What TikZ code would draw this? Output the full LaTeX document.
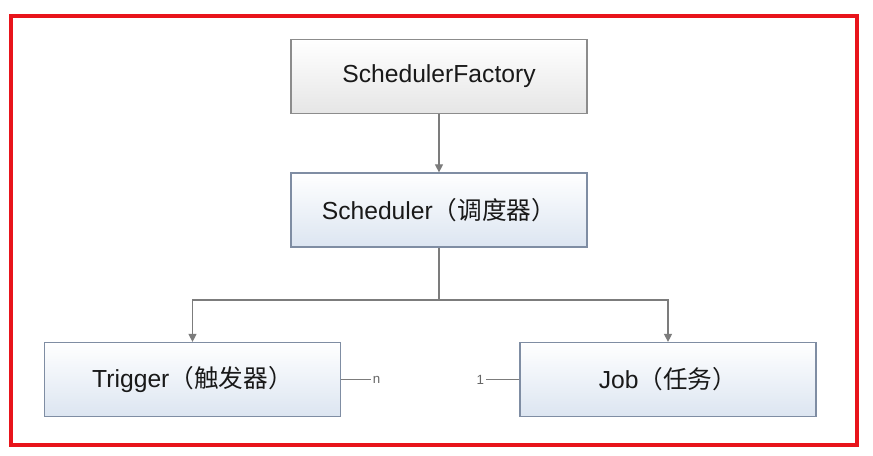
\documentclass[tikz,border=0pt]{standalone}
\usepackage{fontspec}
\setmainfont{Liberation Sans}
\newfontfamily\cjk{Noto Sans CJK SC}
\usetikzlibrary{arrows.meta}

\definecolor{frame}{HTML}{E8141B}
\definecolor{edgegray}{HTML}{7C7C7C}
\definecolor{boxline}{HTML}{7F8DA3}
\definecolor{boxblue}{HTML}{DCE5F1}

\tikzset{
  box/.style={draw=boxline, line width=0.9pt, minimum width=222pt, minimum height=55.5pt,
    top color=white, bottom color=boxblue, text=black!90,
    font=\fontsize{18.5}{22}\selectfont},
  graybox/.style={box, draw=black!45, bottom color=black!10},
  link/.style={draw=edgegray, line width=0.8pt},
  arr/.style={link, -{Triangle[length=6pt,width=6pt]}},
  mult/.style={text=black!60, inner sep=1pt, font=\fontsize{10}{11}\selectfont}
}

\begin{document}
\begin{tikzpicture}[x=0.75pt,y=-0.75pt]
\useasboundingbox (0,0) rectangle (873,456);
\fill[white] (0,0) rectangle (873,456);

% red frame
\draw[frame, line width=3pt] (11,16) rectangle (857,445);

\node[graybox] (factory) at (439,76.5) {SchedulerFactory};
\node[box] (sched) at (439,210) {Scheduler{\cjk（调度器）}};
\node[box] (trigger) at (192.5,379.5) {Trigger{\cjk（触发器）}};
\node[box] (job) at (668,379.5) {Job{\cjk（任务）}};

\coordinate (split) at (439,300);
\coordinate (tn) at (371,379.5);
\coordinate (j1) at (486,379.5);

\draw[arr] (factory) -- (sched);
\draw[link] (sched) -- (split);
\draw[arr] (split) -| (trigger);
\draw[arr] (split) -| (job);

\draw[link] (trigger) -- (tn) node[mult, right] {n};
\draw[link] (job) -- (j1) node[mult, left] {1};
\end{tikzpicture}
\end{document}
